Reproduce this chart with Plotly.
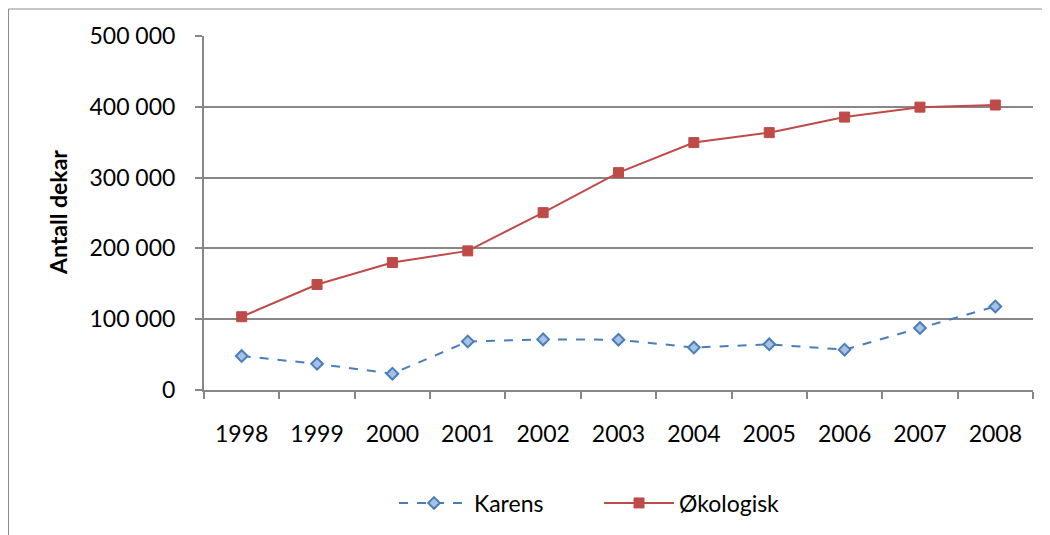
import plotly.graph_objects as go

years = ["1998", "1999", "2000", "2001", "2002", "2003", "2004", "2005", "2006", "2007", "2008"]
karens = [48000, 37000, 23000, 68500, 71500, 71000, 60000, 64500, 57000, 87500, 118000]
okologisk = [103500, 149000, 180000, 196500, 250500, 307000, 349500, 363500, 385500, 399500, 402500]

FONT = "Lato"
GRID = "#878787"
OFF = 8  # page body margin

fig = go.Figure()
fig.add_trace(go.Scatter(
    x=years, y=karens, name="Karens", mode="lines+markers",
    line=dict(color="#4a7ebb", width=2, dash="dash"),
    marker=dict(symbol="diamond", size=9, color="#a7c0e4",
                line=dict(color="#4a7ebb", width=2)),
))
fig.add_trace(go.Scatter(
    x=years, y=okologisk, name="Økologisk", mode="lines+markers",
    line=dict(color="#be4b48", width=2),
    marker=dict(symbol="square", size=10, color="#be4b48",
                line=dict(color="#be4b48", width=1)),
))

W, H = 1042, 527
L, T = 204 - OFF, 36 - OFF
R = W - (1033 - OFF)
B = H - (390 - OFF)
pw, ph = W - L - R, H - T - B


def px(xpage):
    return (xpage - OFF - L) / pw


def py(ypage):
    return (T + ph - (ypage - OFF)) / ph


fig.update_layout(
    width=W, height=H,
    margin=dict(l=L, r=R, t=T, b=B, autoexpand=False),
    paper_bgcolor="white", plot_bgcolor="white",
    separators=", ",
    font=dict(family=FONT, size=23, color="black"),
    showlegend=True,
    legend=dict(orientation="h", x=px(599), xanchor="center",
                y=py(503), yanchor="middle",
                font=dict(family=FONT, size=23), itemwidth=70,
                entrywidth=120, entrywidthmode="pixels",
                bgcolor="rgba(0,0,0,0)"),
    shapes=[dict(type="rect", xref="paper", yref="paper",
                 x0=px(8.5), x1=px(1070),
                 y0=py(560), y1=py(9),
                 line=dict(color="#8c8c8c", width=1), layer="below")],
    annotations=[dict(text="<b>Antall dekar</b>", xref="paper", yref="paper",
                      x=px(58), y=0.5, xanchor="center", yanchor="middle",
                      textangle=-90, showarrow=False,
                      font=dict(family=FONT, size=23, color="black"))],
)
fig.update_xaxes(
    type="category", range=[-0.5, 10.5], tickson="boundaries",
    ticks="outside", ticklen=7, tickcolor=GRID, tickwidth=2,
    showline=True, linecolor=GRID, linewidth=2, showgrid=False,
    tickfont=dict(family=FONT, size=23), ticklabelstandoff=22,
    automargin=False,
)
fig.update_yaxes(
    range=[0, 500000], dtick=100000, tickformat=",d",
    ticks="outside", ticklen=7, tickcolor=GRID, tickwidth=2,
    showline=True, linecolor=GRID, linewidth=2,
    showgrid=True, gridcolor=GRID, gridwidth=2, zeroline=False,
    tickfont=dict(family=FONT, size=23), ticklabelstandoff=15,
    automargin=False,
)

fig.write_html("out.html")
